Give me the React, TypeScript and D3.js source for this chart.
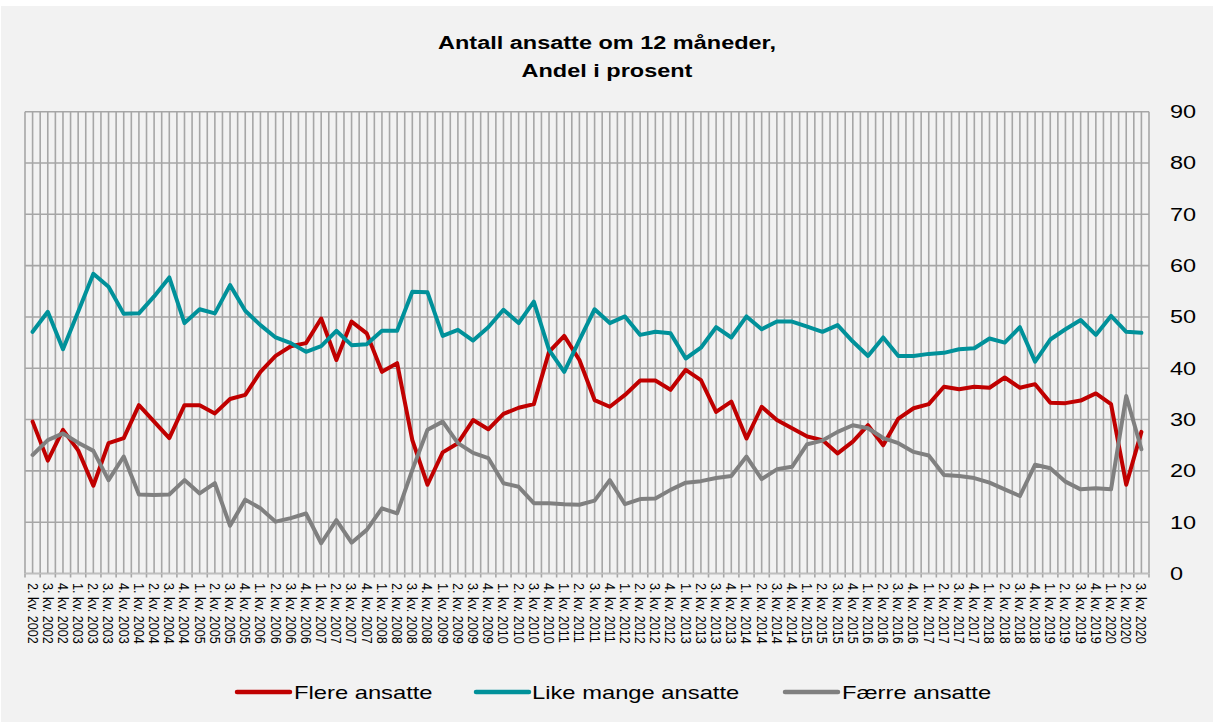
import React from "react";
import * as d3 from "d3";

const years: number[] = [2002, 2003, 2004, 2005, 2006, 2007, 2008, 2009, 2010, 2011, 2012, 2013, 2014, 2015, 2016, 2017, 2018, 2019, 2020];
const quarters: number[] = [1, 2, 3, 4];
const categories: string[] = years
  .flatMap((y) => quarters.map((q) => `${q}. kv. ${y}`))
  .filter((_, i) => i >= 1 && i <= 74);

const flere: number[] = [
  29.6, 22.0, 28.0, 24.0, 17.1, 25.4, 26.4, 32.8, 29.6, 26.4,
  32.8, 32.8, 31.2, 34.0, 34.8, 39.3, 42.4, 44.3, 44.9, 49.7,
  41.6, 49.1, 46.8, 39.3, 41.0, 26.0, 17.3, 23.6, 25.4, 29.9,
  28.1, 31.1, 32.3, 33.0, 43.2, 46.3, 41.6, 33.8, 32.5, 34.8,
  37.6, 37.6, 35.8, 39.7, 37.7, 31.5, 33.5, 26.3, 32.5, 29.9,
  28.3, 26.7, 26.0, 23.4, 25.7, 28.9, 25.0, 30.2, 32.2, 33.0,
  36.4, 35.9, 36.4, 36.2, 38.2, 36.2, 36.9, 33.3, 33.2, 33.7,
  35.1, 33.0, 17.3, 27.6,
];
const likeMange: number[] = [
  47.1, 51.0, 43.7, 51.0, 58.4, 55.9, 50.6, 50.7, 54.0, 57.7,
  48.8, 51.5, 50.7, 56.2, 51.2, 48.4, 46.0, 44.9, 43.2, 44.3,
  47.3, 44.5, 44.7, 47.3, 47.3, 54.9, 54.8, 46.3, 47.5, 45.4,
  48.0, 51.4, 48.8, 53.0, 43.6, 39.3, 45.5, 51.5, 48.8, 50.1,
  46.5, 47.1, 46.8, 41.9, 44.0, 48.0, 46.0, 50.1, 47.6, 49.1,
  49.1, 48.1, 47.1, 48.4, 45.2, 42.4, 46.0, 42.4, 42.4, 42.8,
  43.0, 43.7, 43.9, 45.8, 45.0, 48.0, 41.3, 45.6, 47.6, 49.4,
  46.5, 50.2, 47.1, 46.9,
];
const faerre: number[] = [
  23.1, 26.0, 27.3, 25.5, 23.9, 18.2, 22.8, 15.4, 15.3, 15.4,
  18.2, 15.6, 17.6, 9.3, 14.4, 12.7, 10.1, 10.8, 11.7, 5.9,
  10.4, 6.0, 8.5, 12.7, 11.7, 20.2, 28.0, 29.6, 25.4, 23.5,
  22.5, 17.6, 16.9, 13.7, 13.7, 13.5, 13.4, 14.2, 18.2, 13.5,
  14.5, 14.6, 16.3, 17.7, 18.0, 18.6, 19.0, 22.8, 18.4, 20.3,
  20.8, 25.2, 25.9, 27.6, 28.9, 28.3, 26.4, 25.4, 23.7, 23.0,
  19.2, 19.0, 18.6, 17.7, 16.4, 15.1, 21.2, 20.5, 17.9, 16.4,
  16.6, 16.4, 34.6, 24.2,
];
const yTicks: number[] = [0, 10, 20, 30, 40, 50, 60, 70, 80, 90];

const seriesNames: string[] = ["Flere ansatte", "Like mange ansatte", "Færre ansatte"];
const seriesColors: string[] = ["#C00000", "#00919A", "#808080"];
const seriesValues: number[][] = [flere, likeMange, faerre];

const W = 1214;
const H = 727;
const FONT = "'Liberation Sans', Arial, sans-serif";
const SX = 1.27;

export default function App() {
  const x = d3.scaleBand<string>().domain(categories).range([25, 1149]).paddingInner(0).paddingOuter(0);
  const bw = x.bandwidth();
  const y = d3.scaleLinear().domain([0, 90]).range([573.5, 111.7]);
  const cx = (i: number) => (x(categories[i]) as number) + bw / 2;

  const line = d3
    .line<number>()
    .x((_, i) => cx(i))
    .y((d) => y(d));

  const vLines: number[] = [];
  categories.forEach((c, i) => {
    vLines.push(x(c) as number);
    vLines.push(cx(i));
  });
  vLines.push(1149);

  const legendItems = [
    { x0: 237, x1: 290, tx: 294 },
    { x0: 476, x1: 529, tx: 532 },
    { x0: 785, x1: 838, tx: 842 },
  ];

  return (
    <div style={{ position: "absolute", left: 0, top: 0 }}>
      <svg width={W} height={H} style={{ display: "block" }}>
        <rect x={0} y={0} width={W} height={H} fill="#ffffff" />
        <rect x={1} y={6} width={1212} height={716} fill="#F2F2F2" />
        <text transform={`translate(607,49) scale(${SX},1)`} textAnchor="middle" fontFamily={FONT} fontWeight="bold" fontSize={18.5} fill="#000">
          Antall ansatte om 12 måneder,
        </text>
        <text transform={`translate(607,77) scale(${SX},1)`} textAnchor="middle" fontFamily={FONT} fontWeight="bold" fontSize={18.5} fill="#000">
          Andel i prosent
        </text>
        <g stroke="#A6A6A6" strokeWidth={1.6}>
          {yTicks.map((t) => (
            <line key={"h" + t} x1={25} x2={1149} y1={y(t)} y2={y(t)} />
          ))}
          {vLines.map((vx, i) => (
            <line key={"v" + i} x1={vx} x2={vx} y1={y(90)} y2={y(0)} />
          ))}
          {categories.map((c, i) => (
            <line key={"t" + i} x1={x(c) as number} x2={x(c) as number} y1={y(0)} y2={y(0) + 4} />
          ))}
          <line x1={1149} x2={1149} y1={y(0)} y2={y(0) + 4} />
        </g>
        <line x1={25} x2={1149} y1={y(0)} y2={y(0)} stroke="#BFBFBF" strokeWidth={1.6} />
        {yTicks.map((t) => (
          <text
            key={"yl" + t}
            transform={`translate(1170,${y(t)}) scale(${SX},1)`}
            dy="0.35em"
            fontFamily={FONT}
            fontSize={18.5}
            fill="#000"
          >
            {t}
          </text>
        ))}
        {categories.map((c, i) => (
          <text
            key={"xl" + i}
            transform={`translate(${cx(i)},${583}) rotate(90) scale(1,1.15)`}
            dy="0.35em"
            fontFamily={FONT}
            fontSize={12.6}
            fill="#000"
          >
            {c}
          </text>
        ))}
        {seriesValues.map((vals, s) => (
          <path
            key={"s" + s}
            d={line(vals) as string}
            fill="none"
            stroke={seriesColors[s]}
            strokeWidth={4}
            strokeLinejoin="round"
            strokeLinecap="round"
          />
        ))}
        {legendItems.map((li, s) => (
          <g key={"lg" + s}>
            <line x1={li.x0} x2={li.x1} y1={692} y2={692} stroke={seriesColors[s]} strokeWidth={4.5} strokeLinecap="round" />
            <text
              transform={`translate(${li.tx},692) scale(1.25,1)`}
              dy="0.35em"
              fontFamily={FONT}
              fontSize={19}
              fill="#000"
            >
              {seriesNames[s]}
            </text>
          </g>
        ))}
      </svg>
    </div>
  );
}
